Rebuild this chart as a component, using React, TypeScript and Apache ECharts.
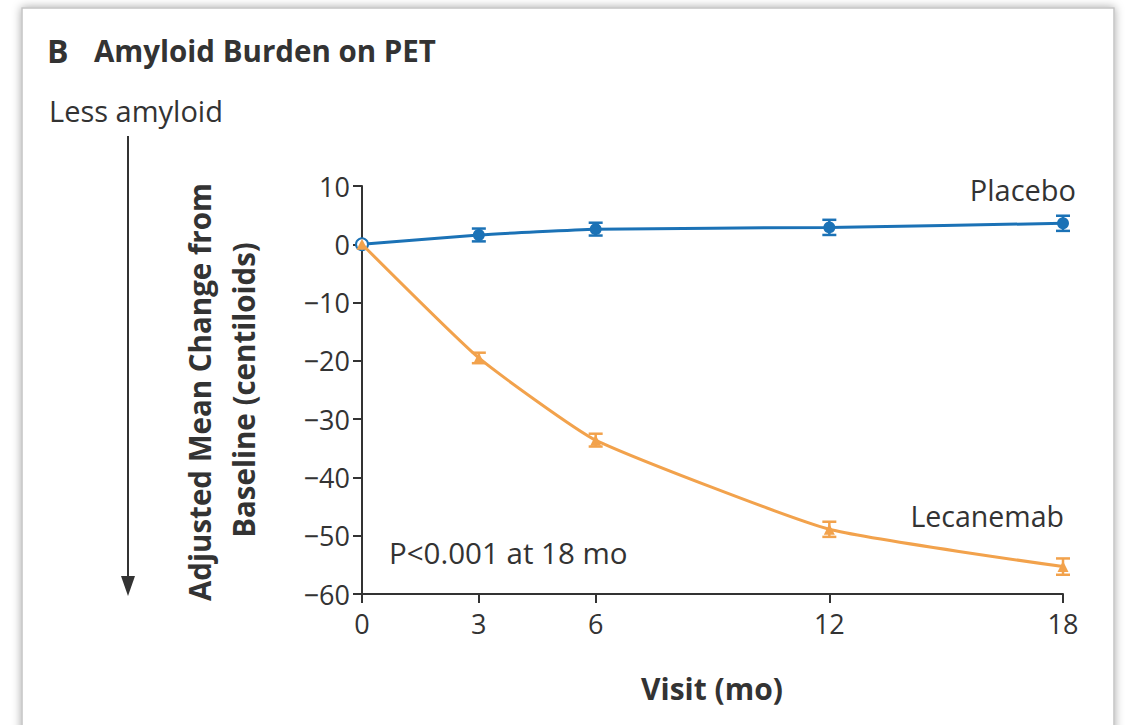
import React, { useEffect, useRef } from "react";
import * as echarts from "echarts";

const months = [0, 3, 6, 12, 18];
const placebo = [0, 1.6, 2.6, 2.9, 3.6];
const placeboErr = [0, 1.1, 1.1, 1.3, 1.3];
const lecanemab = [0, -19.5, -33.6, -48.9, -55.3];
const lecanemabErr = [0, 0.9, 1.1, 1.3, 1.4];

const BLUE = "#1b72b6";
const ORANGE = "#f2a24c";
const TEXT = "#333333";
const FONT = "'Open Sans', 'Noto Sans', sans-serif";

function errorSeries(name: string, vals: number[], errs: number[], color: string) {
  return {
    type: "custom",
    name,
    z: 3,
    data: months.map((m, i) => [m, vals[i] - errs[i], vals[i] + errs[i]]).filter((_, i) => errs[i] > 0),
    renderItem: (params: any, api: any) => {
      const lo = api.coord([api.value(0), api.value(1)]);
      const hi = api.coord([api.value(0), api.value(2)]);
      const w = 7;
      const st = { stroke: color, lineWidth: 2.5 };
      return {
        type: "group",
        children: [
          { type: "line", shape: { x1: lo[0], y1: lo[1], x2: hi[0], y2: hi[1] }, style: st },
          { type: "line", shape: { x1: lo[0] - w, y1: lo[1], x2: lo[0] + w, y2: lo[1] }, style: st },
          { type: "line", shape: { x1: hi[0] - w, y1: hi[1], x2: hi[0] + w, y2: hi[1] }, style: st },
        ],
      };
    },
  };
}

export default function App() {
  const ref = useRef<HTMLDivElement>(null);
  useEffect(() => {
    if (!ref.current) return;
    const chart = echarts.init(ref.current, null, { renderer: "svg" });
    chart.setOption({
      animation: false,
      backgroundColor: "#ffffff",
      textStyle: { fontFamily: FONT },
      grid: { left: 362, right: 62, top: 186, bottom: 131, containLabel: false },
      xAxis: {
        type: "value",
        min: 0,
        max: 18,
        splitLine: { show: false },
        axisLine: { onZero: false, lineStyle: { color: TEXT, width: 2 } },
        axisTick: { customValues: months, length: 9, lineStyle: { color: TEXT, width: 2 } },
        axisLabel: { customValues: months, color: TEXT, fontSize: 27, fontFamily: FONT, margin: 16 },
      },
      yAxis: {
        type: "value",
        min: -60,
        max: 10,
        interval: 10,
        splitLine: { show: false },
        axisLine: { show: true, onZero: false, lineStyle: { color: TEXT, width: 2 } },
        axisTick: { show: true, length: 9, lineStyle: { color: TEXT, width: 2 } },
        axisLabel: {
          color: TEXT,
          fontSize: 27,
          fontFamily: FONT,
          margin: 12,
          formatter: (v: number) => (v < 0 ? "\u2212" + Math.abs(v) : String(v)),
        },
      },
      series: [
        {
          type: "line",
          name: "Placebo",
          smooth: 0.15,
          z: 4,
          data: months.map((m, i) =>
            i === 0
              ? { value: [m, placebo[i]], itemStyle: { color: "#ffffff", borderColor: BLUE, borderWidth: 2 } }
              : [m, placebo[i]]
          ),
          symbol: "circle",
          symbolSize: 12,
          lineStyle: { color: BLUE, width: 3 },
          itemStyle: { color: BLUE },
        },
        errorSeries("PlaceboErr", placebo, placeboErr, BLUE),
        {
          type: "line",
          name: "Lecanemab",
          smooth: 0.15,
          z: 5,
          data: months.map((m, i) => [m, lecanemab[i]]),
          symbol: "triangle",
          symbolSize: 11,
          lineStyle: { color: ORANGE, width: 3 },
          itemStyle: { color: ORANGE },
        },
        errorSeries("LecanemabErr", lecanemab, lecanemabErr, ORANGE),
      ],
      graphic: [
        {
          type: "rect",
          z: -10,
          shape: { x: 22, y: 8, width: 1092, height: 740 },
          style: { fill: "#ffffff", stroke: "#c4c4c4", lineWidth: 1.5, shadowBlur: 10, shadowColor: "rgba(0,0,0,0.35)" },
        },
        {
          type: "text",
          left: 47,
          top: 34,
          style: { text: "B", fontSize: 32, fontWeight: "bold", fill: TEXT, fontFamily: FONT },
        },
        {
          type: "text",
          left: 94,
          top: 35,
          style: { text: "Amyloid Burden on PET", fontSize: 29.5, fontWeight: "bold", fill: TEXT, fontFamily: FONT },
        },
        {
          type: "text",
          left: 49,
          top: 96,
          style: { text: "Less amyloid", fontSize: 29, fill: TEXT, fontFamily: FONT },
        },
        {
          type: "line",
          shape: { x1: 128, y1: 136, x2: 128, y2: 580 },
          style: { stroke: TEXT, lineWidth: 2 },
        },
        {
          type: "polygon",
          shape: { points: [[121, 576], [135, 576], [128, 596]] },
          style: { fill: TEXT },
        },
        {
          type: "text",
          x: 199,
          y: 392,
          rotation: Math.PI / 2,
          style: {
            text: "Adjusted Mean Change from",
            fontSize: 29.5,
            fontWeight: "bold",
            fill: TEXT,
            fontFamily: FONT,
            align: "center",
            verticalAlign: "middle",
          },
        },
        {
          type: "text",
          x: 243,
          y: 390,
          rotation: Math.PI / 2,
          style: {
            text: "Baseline (centiloids)",
            fontSize: 29.5,
            fontWeight: "bold",
            fill: TEXT,
            fontFamily: FONT,
            align: "center",
            verticalAlign: "middle",
          },
        },
        {
          type: "text",
          x: 712,
          y: 688,
          style: {
            text: "Visit (mo)",
            fontSize: 30,
            fontWeight: "bold",
            fill: TEXT,
            fontFamily: FONT,
            align: "center",
            verticalAlign: "middle",
          },
        },
        {
          type: "text",
          x: 1076,
          y: 189,
          style: { text: "Placebo", fontSize: 29, fill: TEXT, fontFamily: FONT, align: "right", verticalAlign: "middle" },
        },
        {
          type: "text",
          x: 1064,
          y: 516,
          style: { text: "Lecanemab", fontSize: 28.5, fill: TEXT, fontFamily: FONT, align: "right", verticalAlign: "middle" },
        },
        {
          type: "text",
          x: 389,
          y: 552,
          style: { text: "P<0.001 at 18 mo", fontSize: 29.5, fill: TEXT, fontFamily: FONT, align: "left", verticalAlign: "middle" },
        },
      ],
    });
    return () => chart.dispose();
  }, []);
  return (
    <div
      ref={ref}
      style={{ position: "absolute", left: 0, top: 0, width: 1125, height: 725 }}
    />
  );
}
